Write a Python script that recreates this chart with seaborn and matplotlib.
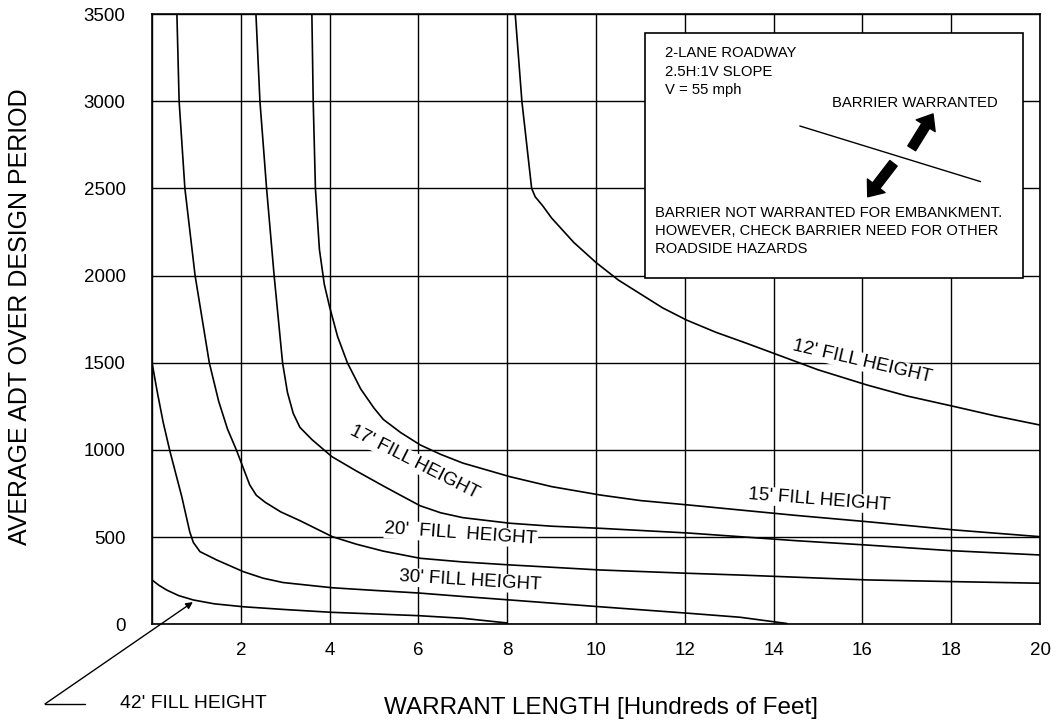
import matplotlib
matplotlib.use("Agg")
import matplotlib.pyplot as plt
from matplotlib.patches import Rectangle
from matplotlib.lines import Line2D
import seaborn as sns
import pandas as pd

# Warrant curves: warrant length (hundreds of feet) vs. average ADT, one per fill height
fill_12_x = [8.18, 8.33, 8.55, 8.63, 8.8, 9.0, 9.5, 10.0, 10.5, 11.0, 11.5, 12.04, 12.7, 13.39,
             14.1, 15.0, 16.1, 17.0, 18.09, 19.0, 20.0]
fill_12_y = [3500, 3000, 2500, 2452, 2400, 2330, 2190, 2075, 1975, 1895, 1815, 1745, 1675, 1612,
             1545, 1460, 1373, 1310, 1248, 1195, 1143]

fill_15_x = [3.6, 3.63, 3.68, 3.77, 3.88, 4.0, 4.18, 4.4, 4.7, 5.0, 5.21, 5.6, 6.04, 6.5, 7.0,
             8.06, 9.0, 10.09, 11.0, 12.07, 13.24, 14.5, 16.1, 18.1, 20.0]
fill_15_y = [3500, 3000, 2500, 2150, 1950, 1820, 1650, 1500, 1350, 1240, 1175, 1100, 1029, 975, 925,
             847, 790, 742, 710, 685, 656, 625, 589, 541, 503]

fill_17_x = [2.34, 2.43, 2.58, 2.75, 2.94, 3.05, 3.18, 3.33, 3.6, 4.05, 4.6, 5.2, 5.6, 6.04, 6.5,
             7.0, 8.06, 9.0, 10.09, 12.07, 13.24, 14.5, 16.1, 17.97, 20.0]
fill_17_y = [3500, 3000, 2500, 2000, 1500, 1330, 1210, 1130, 1060, 962, 880, 795, 740, 680, 640,
             612, 580, 563, 551, 524, 503, 480, 455, 423, 398]

fill_20_x = [0.56, 0.61, 0.74, 0.97, 1.29, 1.5, 1.7, 1.9, 2.05, 2.2, 2.35, 2.55, 2.9, 3.33, 4.06,
             4.6, 5.21, 6.04, 7.0, 8.06, 10.09, 12.07, 13.24, 16.1, 18.1, 20.0]
fill_20_y = [3500, 3000, 2500, 2000, 1500, 1280, 1120, 1000, 900, 800, 740, 700, 645, 595, 503,
             460, 420, 379, 358, 341, 312, 293, 283, 255, 245, 236]

fill_30_x = [0.0, 0.12, 0.25, 0.4, 0.67, 0.85, 0.93, 1.08, 1.46, 2.06, 2.5, 2.95, 4.06, 5.0, 6.0,
             7.0, 8.06, 10.09, 12.07, 13.24, 14.3]
fill_30_y = [1500, 1330, 1160, 996, 732, 530, 470, 417, 369, 302, 265, 240, 210, 195, 180,
             160, 140, 101, 64, 41, 5]

fill_42_x = [0.0, 0.15, 0.33, 0.6, 0.93, 1.4, 2.06, 3.0, 4.06, 5.0, 6.0, 7.0, 8.0]
fill_42_y = [255, 225, 197, 165, 140, 118, 101, 85, 69, 60, 50, 35, 8]

x_ticks = [0, 2, 4, 6, 8, 10, 12, 14, 16, 18, 20]
x_tick_labels = ["", "2", "4", "6", "8", "10", "12", "14", "16", "18", "20"]
y_ticks = [0, 500, 1000, 1500, 2000, 2500, 3000, 3500]
y_tick_labels = ["0", "500", "1000", "1500", "2000", "2500", "3000", "3500"]

curves = {
    "12'": (fill_12_x, fill_12_y),
    "15'": (fill_15_x, fill_15_y),
    "17'": (fill_17_x, fill_17_y),
    "20'": (fill_20_x, fill_20_y),
    "30'": (fill_30_x, fill_30_y),
    "42'": (fill_42_x, fill_42_y),
}
frames = [pd.DataFrame({"length": xs, "adt": ys, "fill": name}) for name, (xs, ys) in curves.items()]
df = pd.concat(frames, ignore_index=True)

sns.set_theme(style="white")
plt.rcParams["font.family"] = ["Liberation Sans", "DejaVu Sans"]

fig = plt.figure(figsize=(10.58, 7.23), dpi=100)
ax = fig.add_axes([0.1437, 0.1364, 0.8393, 0.8442])

sns.lineplot(data=df, x="length", y="adt", hue="fill", units="fill", estimator=None,
             palette={k: "black" for k in curves}, legend=False, lw=1.2, ax=ax, zorder=4)

ax.set_xlim(0, 20)
ax.set_ylim(0, 3500)
ax.set_xticks(x_ticks)
ax.set_xticklabels(x_tick_labels)
ax.set_yticks(y_ticks)
ax.set_yticklabels(y_tick_labels)
ax.tick_params(axis="x", length=0, pad=13, labelsize=13.5, colors="black")
ax.tick_params(axis="y", length=0, pad=19, labelsize=13.5, colors="black")
ax.grid(True, color="black", lw=1.0)
ax.set_axisbelow(True)
for sp in ax.spines.values():
    sp.set_color("black")
    sp.set_linewidth(1.2)

ax.set_xlabel("WARRANT LENGTH [Hundreds of Feet]", fontsize=17.5, color="black")
ax.xaxis.set_label_coords(0.506, -0.137)
ax.xaxis.label.set_va("center")
ax.set_ylabel("AVERAGE ADT OVER DESIGN PERIOD", fontsize=18, color="black")
ax.yaxis.set_label_coords(-0.1486, 0.5036)
ax.yaxis.label.set_va("center")

# Curve labels, sitting just above their curves
label_box = dict(facecolor="white", edgecolor="none", pad=0.5)
curve_labels = [
    ("12' FILL HEIGHT", 15.99, 1505, -13),
    ("15' FILL HEIGHT", 15.02, 713, -4.5),
    ("17' FILL HEIGHT", 5.9, 931, -27),
    ("20'  FILL  HEIGHT", 6.96, 518, -4),
    ("30' FILL HEIGHT", 7.16, 249, -3.5),
]
for text, lx, ly, rot in curve_labels:
    ax.text(lx, ly, text, fontsize=13.5, rotation=rot, rotation_mode="anchor",
            ha="center", va="center", color="black", bbox=label_box, zorder=3)

# 42' leader with arrow
ax.annotate("", xy=(0.92, 128), xytext=(-2.41, -456),
            arrowprops=dict(arrowstyle="-|>", lw=1.0, color="black", mutation_scale=10,
                            shrinkA=0, shrinkB=0), annotation_clip=False, zorder=5)
ax.add_line(Line2D([-2.41, -1.51], [-456, -456], color="black", lw=1.0, clip_on=False))
ax.text(-0.72, -453, "42' FILL HEIGHT", fontsize=13.9, ha="left", va="center",
        color="black", clip_on=False)

# Information box
ax.add_patch(Rectangle((11.1, 1986), 8.52, 1403, facecolor="white", edgecolor="black",
                       lw=1.2, zorder=3))
for text, ty in [("2-LANE ROADWAY", 3278), ("2.5H:1V SLOPE", 3170), ("V = 55 mph", 3063)]:
    ax.text(11.55, ty, text, fontsize=10.7, ha="left", va="center", color="black", zorder=5)
ax.text(15.31, 2990, "BARRIER WARRANTED", fontsize=10.7, ha="left", va="center",
        color="black", zorder=5)
for text, ty in [("BARRIER NOT WARRANTED FOR EMBANKMENT.", 2360),
                 ("HOWEVER, CHECK BARRIER NEED FOR OTHER", 2253),
                 ("ROADSIDE HAZARDS", 2150)]:
    ax.text(11.33, ty, text, fontsize=10.65, ha="left", va="center", color="black", zorder=5)

ax.add_line(Line2D([14.59, 18.66], [2858, 2539], color="black", lw=1.0, zorder=5))
block = dict(arrowstyle="simple,head_length=0.5,head_width=0.8,tail_width=0.33",
             color="black", mutation_scale=20, shrinkA=0, shrinkB=0)
ax.annotate("", xy=(17.59, 2927), xytext=(17.11, 2730), arrowprops=block, zorder=5)
ax.annotate("", xy=(16.12, 2452), xytext=(16.70, 2644), arrowprops=block, zorder=5)

fig.savefig("out.png", dpi=100)
